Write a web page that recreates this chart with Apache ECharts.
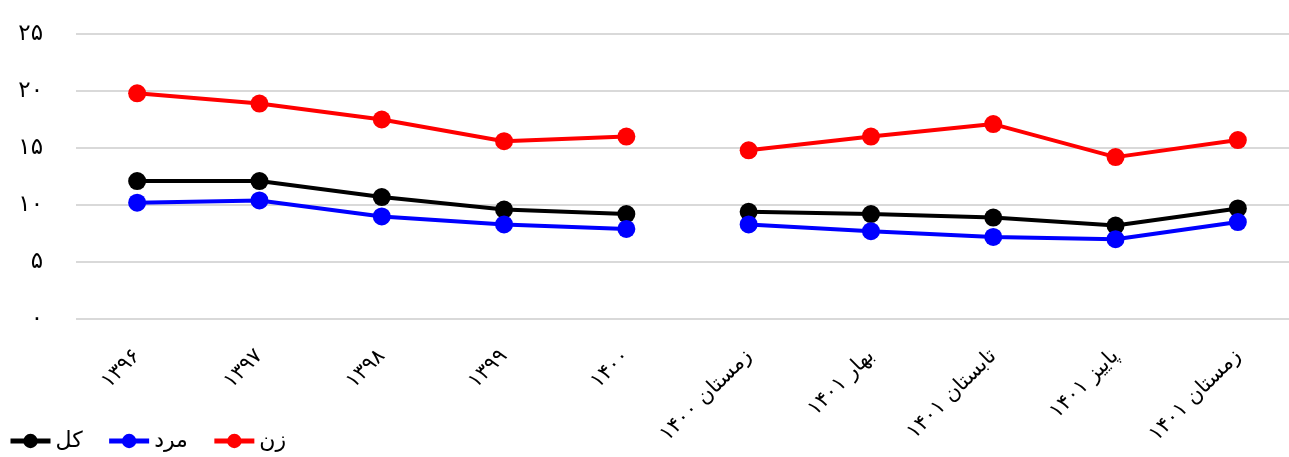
<!DOCTYPE html>
<html>
<head>
<meta charset="utf-8">
<script src="https://cdn.jsdelivr.net/npm/echarts@6/dist/echarts.min.js"></script>
<style>
  html, body { margin: 0; padding: 0; background: #fff; overflow: hidden; }
  /* the plot in the original runs a little past the right edge of the picture */
  #chart { width: 1300px; height: 457px; }
</style>
</head>
<body>
<div id="chart"></div>
<script>
// categories (years then seasons)
var categories = ['۱۳۹۶', '۱۳۹۷', '۱۳۹۸', '۱۳۹۹', '۱۴۰۰',
  'زمستان ۱۴۰۰', 'بهار ۱۴۰۱', 'تابستان ۱۴۰۱', 'پاییز ۱۴۰۱', 'زمستان ۱۴۰۱'];
// line breaks after this many points (yearly part vs seasonal part)
var yearlyCount = 5;

var totalValues = [12.1, 12.1, 10.7, 9.6, 9.2, 9.4, 9.2, 8.9, 8.2, 9.7];
var maleValues = [10.2, 10.4, 9.0, 8.3, 7.9, 8.3, 7.7, 7.2, 7.0, 8.5];
var femaleValues = [19.8, 18.9, 17.5, 15.6, 16.0, 14.8, 16.0, 17.1, 14.2, 15.7];

var yTicks = ['۰', '۵', '۱۰', '۱۵', '۲۰', '۲۵'];

var fontName = 'DejaVu Sans';

// split one series in two parts so the line is broken between 1400 and the seasons
function part(values, first) {
  return values.map(function (v, i) {
    return (first ? i < yearlyCount : i >= yearlyCount) ? v : '-';
  });
}

function makeSeries(name, color, values) {
  var base = {
    name: name,
    type: 'line',
    symbol: 'circle',
    symbolSize: 18,
    color: color,
    lineStyle: { width: 4, color: color },
    itemStyle: { color: color },
    animation: false
  };
  return [
    Object.assign({}, base, { data: part(values, true) }),
    Object.assign({}, base, { data: part(values, false) })
  ];
}

var series = []
  .concat(makeSeries('کل', '#000000', totalValues))
  .concat(makeSeries('مرد', '#0000ff', maleValues))
  .concat(makeSeries('زن', '#ff0000', femaleValues));

var option = {
  backgroundColor: '#fff',
  textStyle: { fontFamily: fontName },
  grid: {
    left: 76,
    top: 34,
    width: 1223,
    height: 285,
    containLabel: false
  },
  legend: {
    data: ['کل', 'مرد', 'زن'],
    left: 8,
    bottom: 5,
    padding: 0,
    itemWidth: 40,
    itemHeight: 18,
    itemGap: 24,
    lineStyle: { width: 5 },
    textStyle: { fontSize: 22, color: '#000', fontFamily: fontName }
  },
  xAxis: {
    type: 'category',
    data: categories,
    boundaryGap: true,
    axisLine: { show: false },
    axisTick: { show: false },
    axisLabel: {
      rotate: 45,
      interval: 0,
      margin: 34,
      fontSize: 21,
      color: '#000',
      fontFamily: fontName
    }
  },
  yAxis: {
    type: 'value',
    min: 0,
    max: 25,
    interval: 5,
    axisLine: { show: false },
    axisTick: { show: false },
    splitLine: { lineStyle: { color: '#d9d9d9', width: 2 } },
    axisLabel: {
      margin: 33,
      fontSize: 23,
      color: '#000',
      fontFamily: fontName,
      formatter: function (v) { return yTicks[v / 5]; }
    }
  },
  series: series
};

echarts.init(document.getElementById('chart')).setOption(option);
</script>
</body>
</html>
